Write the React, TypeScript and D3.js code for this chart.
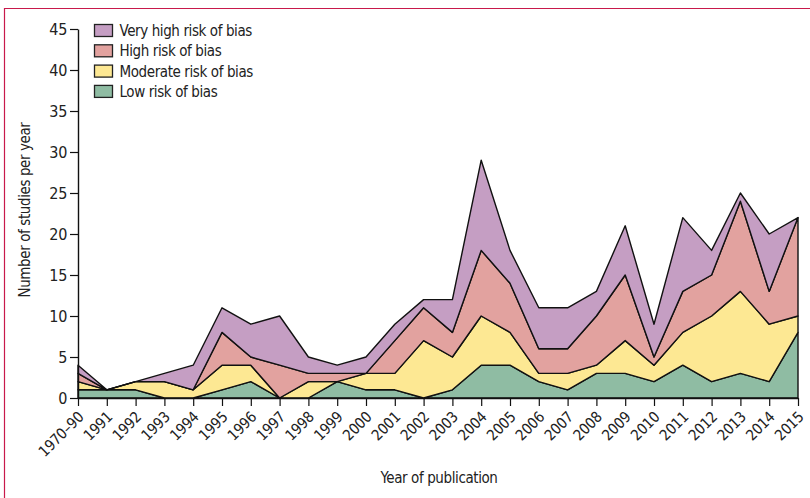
import { useEffect, useRef } from 'react';
import * as d3 from 'd3';

const years = [
  '1970–90', '1991', '1992', '1993', '1994', '1995', '1996', '1997', '1998', '1999', '2000', '2001', '2002',
  '2003', '2004', '2005', '2006', '2007', '2008', '2009', '2010', '2011', '2012', '2013', '2014', '2015',
];

// studies per year for each risk-of-bias group
const low = [1, 1, 1, 0, 0, 1, 2, 0, 0, 2, 1, 1, 0, 1, 4, 4, 2, 1, 3, 3, 2, 4, 2, 3, 2, 8];
const moderate = [1, 0, 1, 2, 1, 3, 2, 0, 2, 0, 2, 2, 7, 4, 6, 4, 1, 2, 1, 4, 2, 4, 8, 10, 7, 2];
const high = [1, 0, 0, 0, 0, 4, 1, 4, 1, 1, 0, 4, 4, 3, 8, 6, 3, 3, 6, 8, 1, 5, 5, 11, 4, 12];
const veryHigh = [1, 0, 0, 1, 3, 3, 4, 6, 2, 1, 2, 2, 1, 4, 11, 4, 5, 5, 3, 6, 4, 9, 3, 1, 7, 0];

const yTicks = [0, 5, 10, 15, 20, 25, 30, 35, 40, 45];

const keys = ['low', 'moderate', 'high', 'veryHigh'];
const labels: Record<string, string> = {
  veryHigh: 'Very high risk of bias',
  high: 'High risk of bias',
  moderate: 'Moderate risk of bias',
  low: 'Low risk of bias',
};
const colors: Record<string, string> = {
  low: '#8fbca3',
  moderate: '#fde893',
  high: '#e2a29f',
  veryHigh: '#c59ec3',
};

const font = "'DejaVu Sans Condensed', sans-serif";

const StackedArea = (): JSX.Element => {
  const svgRef = useRef<SVGSVGElement>(null);

  useEffect(() => {
    if (!svgRef.current) return;
    svgRef.current.innerHTML = '';
    const width = 810;
    const height = 498;
    const marginLeft = 78;
    const marginRight = 12;
    const marginTop = 29;
    const plotBottom = 398;

    const rows = years.map((y, i) => ({
      year: y,
      low: low[i],
      moderate: moderate[i],
      high: high[i],
      veryHigh: veryHigh[i],
    }));

    const x = d3.scalePoint<string>().domain(years).range([marginLeft, width - marginRight]);
    const y = d3.scaleLinear().domain([0, 45]).range([plotBottom, marginTop]);

    const series = d3.stack<any>().keys(keys)(rows);

    const area = d3
      .area<any>()
      .x((d) => x(d.data.year) as number)
      .y0((d) => y(d[0]))
      .y1((d) => y(d[1]));

    const svg = d3.select(svgRef.current).attr('width', width).attr('height', height);

    // frame lines
    svg.append('line').attr('x1', 4.5).attr('x2', 4.5).attr('y1', 8).attr('y2', height).attr('stroke', '#c8194b').attr('stroke-width', 1.2);
    svg.append('line').attr('x1', 4).attr('x2', width).attr('y1', 8.5).attr('y2', 8.5).attr('stroke', '#c8194b').attr('stroke-width', 1.2);

    svg
      .append('g')
      .selectAll('path')
      .data(series)
      .enter()
      .append('path')
      .attr('fill', (d) => colors[d.key])
      .attr('stroke', '#111')
      .attr('stroke-width', 1.4)
      .attr('stroke-linejoin', 'round')
      .attr('d', area);

    // y axis
    const gy = svg
      .append('g')
      .attr('transform', `translate(${marginLeft},0)`)
      .call(d3.axisLeft(y).tickValues(yTicks).tickSize(8).tickPadding(3).tickSizeOuter(0));
    gy.select('.domain').attr('stroke', '#111').attr('stroke-width', 1.4);
    gy.selectAll('.tick line').attr('stroke', '#111').attr('stroke-width', 1.2);
    gy.selectAll('.tick text').attr('font-family', font).attr('font-size', 16).attr('letter-spacing', -0.3).attr('fill', '#222');

    // x axis
    const gx = svg
      .append('g')
      .attr('transform', `translate(0,${plotBottom})`)
      .call(d3.axisBottom(x).tickSize(8).tickSizeOuter(0));
    gx.select('.domain').attr('stroke', '#111').attr('stroke-width', 1.4);
    gx.selectAll('.tick line').attr('stroke', '#111').attr('stroke-width', 1.2);
    gx.selectAll('.tick text')
      .attr('font-family', font)
      .attr('font-size', 15)
      .attr('letter-spacing', -0.3)
      .attr('fill', '#222')
      .attr('text-anchor', 'end')
      .attr('y', 0)
      .attr('dy', 0)
      .attr('transform', 'translate(6,20) rotate(-45)');

    svg
      .append('text')
      .attr('x', 439)
      .attr('y', 483)
      .attr('text-anchor', 'middle')
      .attr('font-family', font)
      .attr('font-size', 15)
      .attr('letter-spacing', -0.4)
      .attr('fill', '#222')
      .text('Year of publication');

    svg
      .append('text')
      .attr('transform', 'translate(30,210) rotate(-90)')
      .attr('text-anchor', 'middle')
      .attr('font-family', font)
      .attr('font-size', 15)
      .attr('letter-spacing', -0.4)
      .attr('fill', '#222')
      .text('Number of studies per year');

    // legend
    const legendKeys = ['veryHigh', 'high', 'moderate', 'low'];
    const lg = svg
      .append('g')
      .selectAll('g')
      .data(legendKeys)
      .enter()
      .append('g')
      .attr('transform', (_d, i) => `translate(94.5,${24.5 + i * 20.3})`);
    lg.append('rect').attr('width', 18).attr('height', 12).attr('fill', (d) => colors[d]).attr('stroke', '#222').attr('stroke-width', 1.3);
    lg.append('text')
      .attr('x', 25)
      .attr('y', 11.5)
      .attr('font-family', font)
      .attr('font-size', 15)
      .attr('letter-spacing', -0.4)
      .attr('fill', '#222')
      .text((d) => labels[d]);
  }, []);

  return <svg ref={svgRef} style={{ position: 'absolute', left: 0, top: 0 }} />;
};

export default function App() {
  return <StackedArea />;
}
